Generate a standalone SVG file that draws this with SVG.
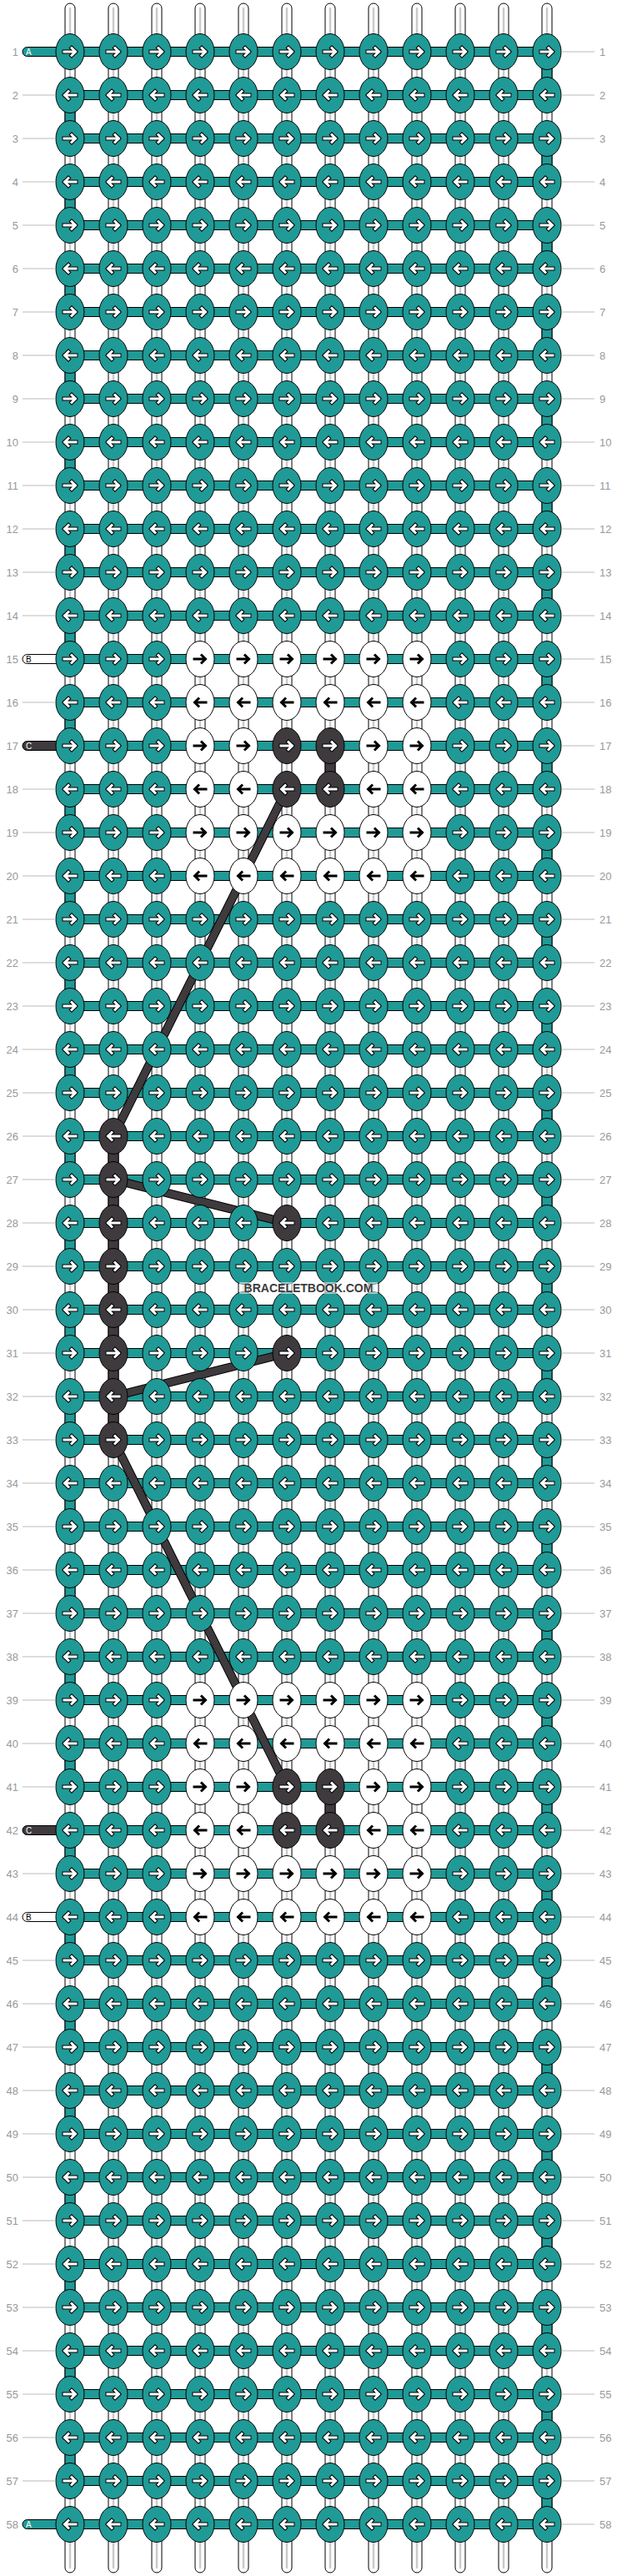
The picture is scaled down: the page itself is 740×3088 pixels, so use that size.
<svg xmlns="http://www.w3.org/2000/svg" width="740" height="3088" viewBox="0 0 740 3088">
<defs>
<style>
.s{fill:#fff;stroke:#000;stroke-width:1}
.g{stroke:#cacaca;stroke-width:2.5}
.e{fill:#209a96;stroke:#000;stroke-width:1}
.dk{fill:#3e3a3e;stroke:#000;stroke-width:1}
.wt{fill:#fff;stroke:#000;stroke-width:1}
.ln{stroke:#bbb;stroke-width:1;fill:none}
.n{font-family:"Liberation Sans",Arial,sans-serif;font-size:13px;fill:#999}
.nl{text-anchor:end}
.tb{font-family:"Liberation Sans",Arial,sans-serif;font-size:10px}
.wm{font-family:"Liberation Sans",Arial,sans-serif;font-size:14px;font-weight:bold;fill:#3c3c3c;text-anchor:middle}
</style>
<ellipse id="kb" rx="17" ry="21.5" stroke="#000" stroke-width="1"/>
<path id="aR" d="M-7 0H6M2-4.5L6.5 0L2 4.5" fill="none" stroke-linecap="square"/>
<path id="aL" d="M7 0H-6M-2-4.5L-6.5 0L-2 4.5" fill="none" stroke-linecap="square"/>
<g id="tR"><use href="#kb" fill="#209a96"/><use href="#aR" stroke="#000" stroke-width="5"/><use href="#aR" stroke="#fff" stroke-width="3"/></g>
<g id="tL"><use href="#kb" fill="#209a96"/><use href="#aL" stroke="#000" stroke-width="5"/><use href="#aL" stroke="#fff" stroke-width="3"/></g>
<g id="dR"><use href="#kb" fill="#3e3a3e"/><use href="#aR" stroke="#000" stroke-width="5"/><use href="#aR" stroke="#fff" stroke-width="3"/></g>
<g id="dL"><use href="#kb" fill="#3e3a3e"/><use href="#aL" stroke="#000" stroke-width="5"/><use href="#aL" stroke="#fff" stroke-width="3"/></g>
<g id="wR"><use href="#kb" fill="#fff"/><use href="#aR" stroke="#000" stroke-width="3"/></g>
<g id="wL"><use href="#kb" fill="#fff"/><use href="#aL" stroke="#000" stroke-width="3"/></g>
</defs>
<rect width="740" height="3088" fill="#fff"/>
<g id="strings">
<rect class="s" x="78" y="4" width="12" height="3080" rx="6"/><rect class="s" x="130" y="4" width="12" height="3080" rx="6"/><rect class="s" x="182" y="4" width="12" height="3080" rx="6"/><rect class="s" x="234" y="4" width="12" height="3080" rx="6"/><rect class="s" x="286" y="4" width="12" height="3080" rx="6"/><rect class="s" x="338" y="4" width="12" height="3080" rx="6"/><rect class="s" x="390" y="4" width="12" height="3080" rx="6"/><rect class="s" x="442" y="4" width="12" height="3080" rx="6"/><rect class="s" x="494" y="4" width="12" height="3080" rx="6"/><rect class="s" x="546" y="4" width="12" height="3080" rx="6"/><rect class="s" x="598" y="4" width="12" height="3080" rx="6"/><rect class="s" x="650" y="4" width="12" height="3080" rx="6"/>
<path class="g" d="M84 9V3079M136 9V3079M188 9V3079M240 9V3079M292 9V3079M344 9V3079M396 9V3079M448 9V3079M500 9V3079M552 9V3079M604 9V3079M656 9V3079"/>
</g>
<g id="connectors">
<g id="edges">
<rect class="e" x="650" y="62" width="12" height="52"/><rect class="e" x="78" y="114" width="12" height="52"/><rect class="e" x="650" y="166" width="12" height="52"/><rect class="e" x="78" y="218" width="12" height="52"/><rect class="e" x="650" y="270" width="12" height="52"/><rect class="e" x="78" y="322" width="12" height="52"/><rect class="e" x="650" y="374" width="12" height="52"/><rect class="e" x="78" y="426" width="12" height="52"/><rect class="e" x="650" y="478" width="12" height="52"/><rect class="e" x="78" y="530" width="12" height="52"/><rect class="e" x="650" y="582" width="12" height="52"/><rect class="e" x="78" y="634" width="12" height="52"/><rect class="e" x="650" y="686" width="12" height="52"/><rect class="e" x="78" y="738" width="12" height="52"/><rect class="e" x="650" y="790" width="12" height="52"/><rect class="e" x="78" y="842" width="12" height="52"/><rect class="e" x="650" y="894" width="12" height="52"/><rect class="e" x="78" y="946" width="12" height="52"/><rect class="e" x="650" y="998" width="12" height="52"/><rect class="e" x="78" y="1050" width="12" height="52"/><rect class="e" x="650" y="1102" width="12" height="52"/><rect class="e" x="78" y="1154" width="12" height="52"/><rect class="e" x="650" y="1206" width="12" height="52"/><rect class="e" x="78" y="1258" width="12" height="52"/><rect class="e" x="650" y="1310" width="12" height="52"/><rect class="e" x="78" y="1362" width="12" height="52"/><rect class="e" x="650" y="1414" width="12" height="52"/><rect class="e" x="78" y="1466" width="12" height="52"/><rect class="e" x="650" y="1518" width="12" height="52"/><rect class="e" x="78" y="1570" width="12" height="52"/><rect class="e" x="650" y="1622" width="12" height="52"/><rect class="e" x="78" y="1674" width="12" height="52"/><rect class="e" x="650" y="1726" width="12" height="52"/><rect class="e" x="78" y="1778" width="12" height="52"/><rect class="e" x="650" y="1830" width="12" height="52"/><rect class="e" x="78" y="1882" width="12" height="52"/><rect class="e" x="650" y="1934" width="12" height="52"/><rect class="e" x="78" y="1986" width="12" height="52"/><rect class="e" x="650" y="2038" width="12" height="52"/><rect class="e" x="78" y="2090" width="12" height="52"/><rect class="e" x="650" y="2142" width="12" height="52"/><rect class="e" x="78" y="2194" width="12" height="52"/><rect class="e" x="650" y="2246" width="12" height="52"/><rect class="e" x="78" y="2298" width="12" height="52"/><rect class="e" x="650" y="2350" width="12" height="52"/><rect class="e" x="78" y="2402" width="12" height="52"/><rect class="e" x="650" y="2454" width="12" height="52"/><rect class="e" x="78" y="2506" width="12" height="52"/><rect class="e" x="650" y="2558" width="12" height="52"/><rect class="e" x="78" y="2610" width="12" height="52"/><rect class="e" x="650" y="2662" width="12" height="52"/><rect class="e" x="78" y="2714" width="12" height="52"/><rect class="e" x="650" y="2766" width="12" height="52"/><rect class="e" x="78" y="2818" width="12" height="52"/><rect class="e" x="650" y="2870" width="12" height="52"/><rect class="e" x="78" y="2922" width="12" height="52"/><rect class="e" x="650" y="2974" width="12" height="52"/>
<rect class="dk" x="390" y="894" width="12" height="52"/><rect class="dk" x="130" y="1362" width="12" height="364"/><rect class="dk" x="390" y="2142" width="12" height="52"/>
</g>
<g id="bars">
<rect class="e" x="27" y="56.5" width="62" height="11" rx="5.5"/>
<rect class="wt" x="27" y="784.5" width="62" height="11" rx="5.5"/>
<rect class="dk" x="27" y="888.5" width="62" height="11" rx="5.5"/>
<rect class="dk" x="27" y="2188.5" width="62" height="11" rx="5.5"/>
<rect class="wt" x="27" y="2292.5" width="62" height="11" rx="5.5"/>
<rect class="e" x="27" y="3020.5" width="62" height="11" rx="5.5"/>
<rect class="e" x="84" y="56.5" width="572" height="11"/><rect class="e" x="84" y="108.5" width="572" height="11"/><rect class="e" x="84" y="160.5" width="572" height="11"/><rect class="e" x="84" y="212.5" width="572" height="11"/><rect class="e" x="84" y="264.5" width="572" height="11"/><rect class="e" x="84" y="316.5" width="572" height="11"/><rect class="e" x="84" y="368.5" width="572" height="11"/><rect class="e" x="84" y="420.5" width="572" height="11"/><rect class="e" x="84" y="472.5" width="572" height="11"/><rect class="e" x="84" y="524.5" width="572" height="11"/><rect class="e" x="84" y="576.5" width="572" height="11"/><rect class="e" x="84" y="628.5" width="572" height="11"/><rect class="e" x="84" y="680.5" width="572" height="11"/><rect class="e" x="84" y="732.5" width="572" height="11"/><rect class="e" x="84" y="784.5" width="572" height="11"/><rect class="e" x="84" y="836.5" width="572" height="11"/><rect class="e" x="84" y="888.5" width="572" height="11"/><rect class="e" x="84" y="940.5" width="572" height="11"/><rect class="e" x="84" y="992.5" width="572" height="11"/><rect class="e" x="84" y="1044.5" width="572" height="11"/><rect class="e" x="84" y="1096.5" width="572" height="11"/><rect class="e" x="84" y="1148.5" width="572" height="11"/><rect class="e" x="84" y="1200.5" width="572" height="11"/><rect class="e" x="84" y="1252.5" width="572" height="11"/><rect class="e" x="84" y="1304.5" width="572" height="11"/><rect class="e" x="84" y="1356.5" width="572" height="11"/><rect class="e" x="84" y="1408.5" width="572" height="11"/><rect class="e" x="84" y="1460.5" width="572" height="11"/><rect class="e" x="84" y="1512.5" width="572" height="11"/><rect class="e" x="84" y="1564.5" width="572" height="11"/><rect class="e" x="84" y="1616.5" width="572" height="11"/><rect class="e" x="84" y="1668.5" width="572" height="11"/><rect class="e" x="84" y="1720.5" width="572" height="11"/><rect class="e" x="84" y="1772.5" width="572" height="11"/><rect class="e" x="84" y="1824.5" width="572" height="11"/><rect class="e" x="84" y="1876.5" width="572" height="11"/><rect class="e" x="84" y="1928.5" width="572" height="11"/><rect class="e" x="84" y="1980.5" width="572" height="11"/><rect class="e" x="84" y="2032.5" width="572" height="11"/><rect class="e" x="84" y="2084.5" width="572" height="11"/><rect class="e" x="84" y="2136.5" width="572" height="11"/><rect class="e" x="84" y="2188.5" width="572" height="11"/><rect class="e" x="84" y="2240.5" width="572" height="11"/><rect class="e" x="84" y="2292.5" width="572" height="11"/><rect class="e" x="84" y="2344.5" width="572" height="11"/><rect class="e" x="84" y="2396.5" width="572" height="11"/><rect class="e" x="84" y="2448.5" width="572" height="11"/><rect class="e" x="84" y="2500.5" width="572" height="11"/><rect class="e" x="84" y="2552.5" width="572" height="11"/><rect class="e" x="84" y="2604.5" width="572" height="11"/><rect class="e" x="84" y="2656.5" width="572" height="11"/><rect class="e" x="84" y="2708.5" width="572" height="11"/><rect class="e" x="84" y="2760.5" width="572" height="11"/><rect class="e" x="84" y="2812.5" width="572" height="11"/><rect class="e" x="84" y="2864.5" width="572" height="11"/><rect class="e" x="84" y="2916.5" width="572" height="11"/><rect class="e" x="84" y="2968.5" width="572" height="11"/><rect class="e" x="84" y="3020.5" width="572" height="11"/>
</g>
<g id="thread">
<path d="M344 946L136 1362M136 1414L344 1466M344 1622L136 1674M136 1726L344 2142" fill="none" stroke="#000" stroke-width="10.5"/>
<path d="M344 946L136 1362M136 1414L344 1466M344 1622L136 1674M136 1726L344 2142" fill="none" stroke="#3e3a3e" stroke-width="8.5"/>
</g>
</g>
<g id="knots">
<g id="r1" transform="translate(0 62)"><g id="k1-1"><use href="#tR" x="84"/></g><g id="k1-2"><use href="#tR" x="136"/></g><g id="k1-3"><use href="#tR" x="188"/></g><g id="k1-4"><use href="#tR" x="240"/></g><g id="k1-5"><use href="#tR" x="292"/></g><g id="k1-6"><use href="#tR" x="344"/></g><g id="k1-7"><use href="#tR" x="396"/></g><g id="k1-8"><use href="#tR" x="448"/></g><g id="k1-9"><use href="#tR" x="500"/></g><g id="k1-10"><use href="#tR" x="552"/></g><g id="k1-11"><use href="#tR" x="604"/></g><g id="k1-12"><use href="#tR" x="656"/></g></g>
<g id="r2" transform="translate(0 114)"><g id="k2-1"><use href="#tL" x="84"/></g><g id="k2-2"><use href="#tL" x="136"/></g><g id="k2-3"><use href="#tL" x="188"/></g><g id="k2-4"><use href="#tL" x="240"/></g><g id="k2-5"><use href="#tL" x="292"/></g><g id="k2-6"><use href="#tL" x="344"/></g><g id="k2-7"><use href="#tL" x="396"/></g><g id="k2-8"><use href="#tL" x="448"/></g><g id="k2-9"><use href="#tL" x="500"/></g><g id="k2-10"><use href="#tL" x="552"/></g><g id="k2-11"><use href="#tL" x="604"/></g><g id="k2-12"><use href="#tL" x="656"/></g></g>
<g id="r3" transform="translate(0 166)"><g id="k3-1"><use href="#tR" x="84"/></g><g id="k3-2"><use href="#tR" x="136"/></g><g id="k3-3"><use href="#tR" x="188"/></g><g id="k3-4"><use href="#tR" x="240"/></g><g id="k3-5"><use href="#tR" x="292"/></g><g id="k3-6"><use href="#tR" x="344"/></g><g id="k3-7"><use href="#tR" x="396"/></g><g id="k3-8"><use href="#tR" x="448"/></g><g id="k3-9"><use href="#tR" x="500"/></g><g id="k3-10"><use href="#tR" x="552"/></g><g id="k3-11"><use href="#tR" x="604"/></g><g id="k3-12"><use href="#tR" x="656"/></g></g>
<g id="r4" transform="translate(0 218)"><g id="k4-1"><use href="#tL" x="84"/></g><g id="k4-2"><use href="#tL" x="136"/></g><g id="k4-3"><use href="#tL" x="188"/></g><g id="k4-4"><use href="#tL" x="240"/></g><g id="k4-5"><use href="#tL" x="292"/></g><g id="k4-6"><use href="#tL" x="344"/></g><g id="k4-7"><use href="#tL" x="396"/></g><g id="k4-8"><use href="#tL" x="448"/></g><g id="k4-9"><use href="#tL" x="500"/></g><g id="k4-10"><use href="#tL" x="552"/></g><g id="k4-11"><use href="#tL" x="604"/></g><g id="k4-12"><use href="#tL" x="656"/></g></g>
<g id="r5" transform="translate(0 270)"><g id="k5-1"><use href="#tR" x="84"/></g><g id="k5-2"><use href="#tR" x="136"/></g><g id="k5-3"><use href="#tR" x="188"/></g><g id="k5-4"><use href="#tR" x="240"/></g><g id="k5-5"><use href="#tR" x="292"/></g><g id="k5-6"><use href="#tR" x="344"/></g><g id="k5-7"><use href="#tR" x="396"/></g><g id="k5-8"><use href="#tR" x="448"/></g><g id="k5-9"><use href="#tR" x="500"/></g><g id="k5-10"><use href="#tR" x="552"/></g><g id="k5-11"><use href="#tR" x="604"/></g><g id="k5-12"><use href="#tR" x="656"/></g></g>
<g id="r6" transform="translate(0 322)"><g id="k6-1"><use href="#tL" x="84"/></g><g id="k6-2"><use href="#tL" x="136"/></g><g id="k6-3"><use href="#tL" x="188"/></g><g id="k6-4"><use href="#tL" x="240"/></g><g id="k6-5"><use href="#tL" x="292"/></g><g id="k6-6"><use href="#tL" x="344"/></g><g id="k6-7"><use href="#tL" x="396"/></g><g id="k6-8"><use href="#tL" x="448"/></g><g id="k6-9"><use href="#tL" x="500"/></g><g id="k6-10"><use href="#tL" x="552"/></g><g id="k6-11"><use href="#tL" x="604"/></g><g id="k6-12"><use href="#tL" x="656"/></g></g>
<g id="r7" transform="translate(0 374)"><g id="k7-1"><use href="#tR" x="84"/></g><g id="k7-2"><use href="#tR" x="136"/></g><g id="k7-3"><use href="#tR" x="188"/></g><g id="k7-4"><use href="#tR" x="240"/></g><g id="k7-5"><use href="#tR" x="292"/></g><g id="k7-6"><use href="#tR" x="344"/></g><g id="k7-7"><use href="#tR" x="396"/></g><g id="k7-8"><use href="#tR" x="448"/></g><g id="k7-9"><use href="#tR" x="500"/></g><g id="k7-10"><use href="#tR" x="552"/></g><g id="k7-11"><use href="#tR" x="604"/></g><g id="k7-12"><use href="#tR" x="656"/></g></g>
<g id="r8" transform="translate(0 426)"><g id="k8-1"><use href="#tL" x="84"/></g><g id="k8-2"><use href="#tL" x="136"/></g><g id="k8-3"><use href="#tL" x="188"/></g><g id="k8-4"><use href="#tL" x="240"/></g><g id="k8-5"><use href="#tL" x="292"/></g><g id="k8-6"><use href="#tL" x="344"/></g><g id="k8-7"><use href="#tL" x="396"/></g><g id="k8-8"><use href="#tL" x="448"/></g><g id="k8-9"><use href="#tL" x="500"/></g><g id="k8-10"><use href="#tL" x="552"/></g><g id="k8-11"><use href="#tL" x="604"/></g><g id="k8-12"><use href="#tL" x="656"/></g></g>
<g id="r9" transform="translate(0 478)"><g id="k9-1"><use href="#tR" x="84"/></g><g id="k9-2"><use href="#tR" x="136"/></g><g id="k9-3"><use href="#tR" x="188"/></g><g id="k9-4"><use href="#tR" x="240"/></g><g id="k9-5"><use href="#tR" x="292"/></g><g id="k9-6"><use href="#tR" x="344"/></g><g id="k9-7"><use href="#tR" x="396"/></g><g id="k9-8"><use href="#tR" x="448"/></g><g id="k9-9"><use href="#tR" x="500"/></g><g id="k9-10"><use href="#tR" x="552"/></g><g id="k9-11"><use href="#tR" x="604"/></g><g id="k9-12"><use href="#tR" x="656"/></g></g>
<g id="r10" transform="translate(0 530)"><g id="k10-1"><use href="#tL" x="84"/></g><g id="k10-2"><use href="#tL" x="136"/></g><g id="k10-3"><use href="#tL" x="188"/></g><g id="k10-4"><use href="#tL" x="240"/></g><g id="k10-5"><use href="#tL" x="292"/></g><g id="k10-6"><use href="#tL" x="344"/></g><g id="k10-7"><use href="#tL" x="396"/></g><g id="k10-8"><use href="#tL" x="448"/></g><g id="k10-9"><use href="#tL" x="500"/></g><g id="k10-10"><use href="#tL" x="552"/></g><g id="k10-11"><use href="#tL" x="604"/></g><g id="k10-12"><use href="#tL" x="656"/></g></g>
<g id="r11" transform="translate(0 582)"><g id="k11-1"><use href="#tR" x="84"/></g><g id="k11-2"><use href="#tR" x="136"/></g><g id="k11-3"><use href="#tR" x="188"/></g><g id="k11-4"><use href="#tR" x="240"/></g><g id="k11-5"><use href="#tR" x="292"/></g><g id="k11-6"><use href="#tR" x="344"/></g><g id="k11-7"><use href="#tR" x="396"/></g><g id="k11-8"><use href="#tR" x="448"/></g><g id="k11-9"><use href="#tR" x="500"/></g><g id="k11-10"><use href="#tR" x="552"/></g><g id="k11-11"><use href="#tR" x="604"/></g><g id="k11-12"><use href="#tR" x="656"/></g></g>
<g id="r12" transform="translate(0 634)"><g id="k12-1"><use href="#tL" x="84"/></g><g id="k12-2"><use href="#tL" x="136"/></g><g id="k12-3"><use href="#tL" x="188"/></g><g id="k12-4"><use href="#tL" x="240"/></g><g id="k12-5"><use href="#tL" x="292"/></g><g id="k12-6"><use href="#tL" x="344"/></g><g id="k12-7"><use href="#tL" x="396"/></g><g id="k12-8"><use href="#tL" x="448"/></g><g id="k12-9"><use href="#tL" x="500"/></g><g id="k12-10"><use href="#tL" x="552"/></g><g id="k12-11"><use href="#tL" x="604"/></g><g id="k12-12"><use href="#tL" x="656"/></g></g>
<g id="r13" transform="translate(0 686)"><g id="k13-1"><use href="#tR" x="84"/></g><g id="k13-2"><use href="#tR" x="136"/></g><g id="k13-3"><use href="#tR" x="188"/></g><g id="k13-4"><use href="#tR" x="240"/></g><g id="k13-5"><use href="#tR" x="292"/></g><g id="k13-6"><use href="#tR" x="344"/></g><g id="k13-7"><use href="#tR" x="396"/></g><g id="k13-8"><use href="#tR" x="448"/></g><g id="k13-9"><use href="#tR" x="500"/></g><g id="k13-10"><use href="#tR" x="552"/></g><g id="k13-11"><use href="#tR" x="604"/></g><g id="k13-12"><use href="#tR" x="656"/></g></g>
<g id="r14" transform="translate(0 738)"><g id="k14-1"><use href="#tL" x="84"/></g><g id="k14-2"><use href="#tL" x="136"/></g><g id="k14-3"><use href="#tL" x="188"/></g><g id="k14-4"><use href="#tL" x="240"/></g><g id="k14-5"><use href="#tL" x="292"/></g><g id="k14-6"><use href="#tL" x="344"/></g><g id="k14-7"><use href="#tL" x="396"/></g><g id="k14-8"><use href="#tL" x="448"/></g><g id="k14-9"><use href="#tL" x="500"/></g><g id="k14-10"><use href="#tL" x="552"/></g><g id="k14-11"><use href="#tL" x="604"/></g><g id="k14-12"><use href="#tL" x="656"/></g></g>
<g id="r15" transform="translate(0 790)"><g id="k15-1"><use href="#tR" x="84"/></g><g id="k15-2"><use href="#tR" x="136"/></g><g id="k15-3"><use href="#tR" x="188"/></g><g id="k15-4"><use href="#wR" x="240"/></g><g id="k15-5"><use href="#wR" x="292"/></g><g id="k15-6"><use href="#wR" x="344"/></g><g id="k15-7"><use href="#wR" x="396"/></g><g id="k15-8"><use href="#wR" x="448"/></g><g id="k15-9"><use href="#wR" x="500"/></g><g id="k15-10"><use href="#tR" x="552"/></g><g id="k15-11"><use href="#tR" x="604"/></g><g id="k15-12"><use href="#tR" x="656"/></g></g>
<g id="r16" transform="translate(0 842)"><g id="k16-1"><use href="#tL" x="84"/></g><g id="k16-2"><use href="#tL" x="136"/></g><g id="k16-3"><use href="#tL" x="188"/></g><g id="k16-4"><use href="#wL" x="240"/></g><g id="k16-5"><use href="#wL" x="292"/></g><g id="k16-6"><use href="#wL" x="344"/></g><g id="k16-7"><use href="#wL" x="396"/></g><g id="k16-8"><use href="#wL" x="448"/></g><g id="k16-9"><use href="#wL" x="500"/></g><g id="k16-10"><use href="#tL" x="552"/></g><g id="k16-11"><use href="#tL" x="604"/></g><g id="k16-12"><use href="#tL" x="656"/></g></g>
<g id="r17" transform="translate(0 894)"><g id="k17-1"><use href="#tR" x="84"/></g><g id="k17-2"><use href="#tR" x="136"/></g><g id="k17-3"><use href="#tR" x="188"/></g><g id="k17-4"><use href="#wR" x="240"/></g><g id="k17-5"><use href="#wR" x="292"/></g><g id="k17-6"><use href="#dR" x="344"/></g><g id="k17-7"><use href="#dR" x="396"/></g><g id="k17-8"><use href="#wR" x="448"/></g><g id="k17-9"><use href="#wR" x="500"/></g><g id="k17-10"><use href="#tR" x="552"/></g><g id="k17-11"><use href="#tR" x="604"/></g><g id="k17-12"><use href="#tR" x="656"/></g></g>
<g id="r18" transform="translate(0 946)"><g id="k18-1"><use href="#tL" x="84"/></g><g id="k18-2"><use href="#tL" x="136"/></g><g id="k18-3"><use href="#tL" x="188"/></g><g id="k18-4"><use href="#wL" x="240"/></g><g id="k18-5"><use href="#wL" x="292"/></g><g id="k18-6"><use href="#dL" x="344"/></g><g id="k18-7"><use href="#dL" x="396"/></g><g id="k18-8"><use href="#wL" x="448"/></g><g id="k18-9"><use href="#wL" x="500"/></g><g id="k18-10"><use href="#tL" x="552"/></g><g id="k18-11"><use href="#tL" x="604"/></g><g id="k18-12"><use href="#tL" x="656"/></g></g>
<g id="r19" transform="translate(0 998)"><g id="k19-1"><use href="#tR" x="84"/></g><g id="k19-2"><use href="#tR" x="136"/></g><g id="k19-3"><use href="#tR" x="188"/></g><g id="k19-4"><use href="#wR" x="240"/></g><g id="k19-5"><use href="#wR" x="292"/></g><g id="k19-6"><use href="#wR" x="344"/></g><g id="k19-7"><use href="#wR" x="396"/></g><g id="k19-8"><use href="#wR" x="448"/></g><g id="k19-9"><use href="#wR" x="500"/></g><g id="k19-10"><use href="#tR" x="552"/></g><g id="k19-11"><use href="#tR" x="604"/></g><g id="k19-12"><use href="#tR" x="656"/></g></g>
<g id="r20" transform="translate(0 1050)"><g id="k20-1"><use href="#tL" x="84"/></g><g id="k20-2"><use href="#tL" x="136"/></g><g id="k20-3"><use href="#tL" x="188"/></g><g id="k20-4"><use href="#wL" x="240"/></g><g id="k20-5"><use href="#wL" x="292"/></g><g id="k20-6"><use href="#wL" x="344"/></g><g id="k20-7"><use href="#wL" x="396"/></g><g id="k20-8"><use href="#wL" x="448"/></g><g id="k20-9"><use href="#wL" x="500"/></g><g id="k20-10"><use href="#tL" x="552"/></g><g id="k20-11"><use href="#tL" x="604"/></g><g id="k20-12"><use href="#tL" x="656"/></g></g>
<g id="r21" transform="translate(0 1102)"><g id="k21-1"><use href="#tR" x="84"/></g><g id="k21-2"><use href="#tR" x="136"/></g><g id="k21-3"><use href="#tR" x="188"/></g><g id="k21-4"><use href="#tR" x="240"/></g><g id="k21-5"><use href="#tR" x="292"/></g><g id="k21-6"><use href="#tR" x="344"/></g><g id="k21-7"><use href="#tR" x="396"/></g><g id="k21-8"><use href="#tR" x="448"/></g><g id="k21-9"><use href="#tR" x="500"/></g><g id="k21-10"><use href="#tR" x="552"/></g><g id="k21-11"><use href="#tR" x="604"/></g><g id="k21-12"><use href="#tR" x="656"/></g></g>
<g id="r22" transform="translate(0 1154)"><g id="k22-1"><use href="#tL" x="84"/></g><g id="k22-2"><use href="#tL" x="136"/></g><g id="k22-3"><use href="#tL" x="188"/></g><g id="k22-4"><use href="#tL" x="240"/></g><g id="k22-5"><use href="#tL" x="292"/></g><g id="k22-6"><use href="#tL" x="344"/></g><g id="k22-7"><use href="#tL" x="396"/></g><g id="k22-8"><use href="#tL" x="448"/></g><g id="k22-9"><use href="#tL" x="500"/></g><g id="k22-10"><use href="#tL" x="552"/></g><g id="k22-11"><use href="#tL" x="604"/></g><g id="k22-12"><use href="#tL" x="656"/></g></g>
<g id="r23" transform="translate(0 1206)"><g id="k23-1"><use href="#tR" x="84"/></g><g id="k23-2"><use href="#tR" x="136"/></g><g id="k23-3"><use href="#tR" x="188"/></g><g id="k23-4"><use href="#tR" x="240"/></g><g id="k23-5"><use href="#tR" x="292"/></g><g id="k23-6"><use href="#tR" x="344"/></g><g id="k23-7"><use href="#tR" x="396"/></g><g id="k23-8"><use href="#tR" x="448"/></g><g id="k23-9"><use href="#tR" x="500"/></g><g id="k23-10"><use href="#tR" x="552"/></g><g id="k23-11"><use href="#tR" x="604"/></g><g id="k23-12"><use href="#tR" x="656"/></g></g>
<g id="r24" transform="translate(0 1258)"><g id="k24-1"><use href="#tL" x="84"/></g><g id="k24-2"><use href="#tL" x="136"/></g><g id="k24-3"><use href="#tL" x="188"/></g><g id="k24-4"><use href="#tL" x="240"/></g><g id="k24-5"><use href="#tL" x="292"/></g><g id="k24-6"><use href="#tL" x="344"/></g><g id="k24-7"><use href="#tL" x="396"/></g><g id="k24-8"><use href="#tL" x="448"/></g><g id="k24-9"><use href="#tL" x="500"/></g><g id="k24-10"><use href="#tL" x="552"/></g><g id="k24-11"><use href="#tL" x="604"/></g><g id="k24-12"><use href="#tL" x="656"/></g></g>
<g id="r25" transform="translate(0 1310)"><g id="k25-1"><use href="#tR" x="84"/></g><g id="k25-2"><use href="#tR" x="136"/></g><g id="k25-3"><use href="#tR" x="188"/></g><g id="k25-4"><use href="#tR" x="240"/></g><g id="k25-5"><use href="#tR" x="292"/></g><g id="k25-6"><use href="#tR" x="344"/></g><g id="k25-7"><use href="#tR" x="396"/></g><g id="k25-8"><use href="#tR" x="448"/></g><g id="k25-9"><use href="#tR" x="500"/></g><g id="k25-10"><use href="#tR" x="552"/></g><g id="k25-11"><use href="#tR" x="604"/></g><g id="k25-12"><use href="#tR" x="656"/></g></g>
<g id="r26" transform="translate(0 1362)"><g id="k26-1"><use href="#tL" x="84"/></g><g id="k26-2"><use href="#dL" x="136"/></g><g id="k26-3"><use href="#tL" x="188"/></g><g id="k26-4"><use href="#tL" x="240"/></g><g id="k26-5"><use href="#tL" x="292"/></g><g id="k26-6"><use href="#tL" x="344"/></g><g id="k26-7"><use href="#tL" x="396"/></g><g id="k26-8"><use href="#tL" x="448"/></g><g id="k26-9"><use href="#tL" x="500"/></g><g id="k26-10"><use href="#tL" x="552"/></g><g id="k26-11"><use href="#tL" x="604"/></g><g id="k26-12"><use href="#tL" x="656"/></g></g>
<g id="r27" transform="translate(0 1414)"><g id="k27-1"><use href="#tR" x="84"/></g><g id="k27-2"><use href="#dR" x="136"/></g><g id="k27-3"><use href="#tR" x="188"/></g><g id="k27-4"><use href="#tR" x="240"/></g><g id="k27-5"><use href="#tR" x="292"/></g><g id="k27-6"><use href="#tR" x="344"/></g><g id="k27-7"><use href="#tR" x="396"/></g><g id="k27-8"><use href="#tR" x="448"/></g><g id="k27-9"><use href="#tR" x="500"/></g><g id="k27-10"><use href="#tR" x="552"/></g><g id="k27-11"><use href="#tR" x="604"/></g><g id="k27-12"><use href="#tR" x="656"/></g></g>
<g id="r28" transform="translate(0 1466)"><g id="k28-1"><use href="#tL" x="84"/></g><g id="k28-2"><use href="#dL" x="136"/></g><g id="k28-3"><use href="#tL" x="188"/></g><g id="k28-4"><use href="#tL" x="240"/></g><g id="k28-5"><use href="#tL" x="292"/></g><g id="k28-6"><use href="#dL" x="344"/></g><g id="k28-7"><use href="#tL" x="396"/></g><g id="k28-8"><use href="#tL" x="448"/></g><g id="k28-9"><use href="#tL" x="500"/></g><g id="k28-10"><use href="#tL" x="552"/></g><g id="k28-11"><use href="#tL" x="604"/></g><g id="k28-12"><use href="#tL" x="656"/></g></g>
<g id="r29" transform="translate(0 1518)"><g id="k29-1"><use href="#tR" x="84"/></g><g id="k29-2"><use href="#dR" x="136"/></g><g id="k29-3"><use href="#tR" x="188"/></g><g id="k29-4"><use href="#tR" x="240"/></g><g id="k29-5"><use href="#tR" x="292"/></g><g id="k29-6"><use href="#tR" x="344"/></g><g id="k29-7"><use href="#tR" x="396"/></g><g id="k29-8"><use href="#tR" x="448"/></g><g id="k29-9"><use href="#tR" x="500"/></g><g id="k29-10"><use href="#tR" x="552"/></g><g id="k29-11"><use href="#tR" x="604"/></g><g id="k29-12"><use href="#tR" x="656"/></g></g>
<g id="r30" transform="translate(0 1570)"><g id="k30-1"><use href="#tL" x="84"/></g><g id="k30-2"><use href="#dL" x="136"/></g><g id="k30-3"><use href="#tL" x="188"/></g><g id="k30-4"><use href="#tL" x="240"/></g><g id="k30-5"><use href="#tL" x="292"/></g><g id="k30-6"><use href="#tL" x="344"/></g><g id="k30-7"><use href="#tL" x="396"/></g><g id="k30-8"><use href="#tL" x="448"/></g><g id="k30-9"><use href="#tL" x="500"/></g><g id="k30-10"><use href="#tL" x="552"/></g><g id="k30-11"><use href="#tL" x="604"/></g><g id="k30-12"><use href="#tL" x="656"/></g></g>
<g id="r31" transform="translate(0 1622)"><g id="k31-1"><use href="#tR" x="84"/></g><g id="k31-2"><use href="#dR" x="136"/></g><g id="k31-3"><use href="#tR" x="188"/></g><g id="k31-4"><use href="#tR" x="240"/></g><g id="k31-5"><use href="#tR" x="292"/></g><g id="k31-6"><use href="#dR" x="344"/></g><g id="k31-7"><use href="#tR" x="396"/></g><g id="k31-8"><use href="#tR" x="448"/></g><g id="k31-9"><use href="#tR" x="500"/></g><g id="k31-10"><use href="#tR" x="552"/></g><g id="k31-11"><use href="#tR" x="604"/></g><g id="k31-12"><use href="#tR" x="656"/></g></g>
<g id="r32" transform="translate(0 1674)"><g id="k32-1"><use href="#tL" x="84"/></g><g id="k32-2"><use href="#dL" x="136"/></g><g id="k32-3"><use href="#tL" x="188"/></g><g id="k32-4"><use href="#tL" x="240"/></g><g id="k32-5"><use href="#tL" x="292"/></g><g id="k32-6"><use href="#tL" x="344"/></g><g id="k32-7"><use href="#tL" x="396"/></g><g id="k32-8"><use href="#tL" x="448"/></g><g id="k32-9"><use href="#tL" x="500"/></g><g id="k32-10"><use href="#tL" x="552"/></g><g id="k32-11"><use href="#tL" x="604"/></g><g id="k32-12"><use href="#tL" x="656"/></g></g>
<g id="r33" transform="translate(0 1726)"><g id="k33-1"><use href="#tR" x="84"/></g><g id="k33-2"><use href="#dR" x="136"/></g><g id="k33-3"><use href="#tR" x="188"/></g><g id="k33-4"><use href="#tR" x="240"/></g><g id="k33-5"><use href="#tR" x="292"/></g><g id="k33-6"><use href="#tR" x="344"/></g><g id="k33-7"><use href="#tR" x="396"/></g><g id="k33-8"><use href="#tR" x="448"/></g><g id="k33-9"><use href="#tR" x="500"/></g><g id="k33-10"><use href="#tR" x="552"/></g><g id="k33-11"><use href="#tR" x="604"/></g><g id="k33-12"><use href="#tR" x="656"/></g></g>
<g id="r34" transform="translate(0 1778)"><g id="k34-1"><use href="#tL" x="84"/></g><g id="k34-2"><use href="#tL" x="136"/></g><g id="k34-3"><use href="#tL" x="188"/></g><g id="k34-4"><use href="#tL" x="240"/></g><g id="k34-5"><use href="#tL" x="292"/></g><g id="k34-6"><use href="#tL" x="344"/></g><g id="k34-7"><use href="#tL" x="396"/></g><g id="k34-8"><use href="#tL" x="448"/></g><g id="k34-9"><use href="#tL" x="500"/></g><g id="k34-10"><use href="#tL" x="552"/></g><g id="k34-11"><use href="#tL" x="604"/></g><g id="k34-12"><use href="#tL" x="656"/></g></g>
<g id="r35" transform="translate(0 1830)"><g id="k35-1"><use href="#tR" x="84"/></g><g id="k35-2"><use href="#tR" x="136"/></g><g id="k35-3"><use href="#tR" x="188"/></g><g id="k35-4"><use href="#tR" x="240"/></g><g id="k35-5"><use href="#tR" x="292"/></g><g id="k35-6"><use href="#tR" x="344"/></g><g id="k35-7"><use href="#tR" x="396"/></g><g id="k35-8"><use href="#tR" x="448"/></g><g id="k35-9"><use href="#tR" x="500"/></g><g id="k35-10"><use href="#tR" x="552"/></g><g id="k35-11"><use href="#tR" x="604"/></g><g id="k35-12"><use href="#tR" x="656"/></g></g>
<g id="r36" transform="translate(0 1882)"><g id="k36-1"><use href="#tL" x="84"/></g><g id="k36-2"><use href="#tL" x="136"/></g><g id="k36-3"><use href="#tL" x="188"/></g><g id="k36-4"><use href="#tL" x="240"/></g><g id="k36-5"><use href="#tL" x="292"/></g><g id="k36-6"><use href="#tL" x="344"/></g><g id="k36-7"><use href="#tL" x="396"/></g><g id="k36-8"><use href="#tL" x="448"/></g><g id="k36-9"><use href="#tL" x="500"/></g><g id="k36-10"><use href="#tL" x="552"/></g><g id="k36-11"><use href="#tL" x="604"/></g><g id="k36-12"><use href="#tL" x="656"/></g></g>
<g id="r37" transform="translate(0 1934)"><g id="k37-1"><use href="#tR" x="84"/></g><g id="k37-2"><use href="#tR" x="136"/></g><g id="k37-3"><use href="#tR" x="188"/></g><g id="k37-4"><use href="#tR" x="240"/></g><g id="k37-5"><use href="#tR" x="292"/></g><g id="k37-6"><use href="#tR" x="344"/></g><g id="k37-7"><use href="#tR" x="396"/></g><g id="k37-8"><use href="#tR" x="448"/></g><g id="k37-9"><use href="#tR" x="500"/></g><g id="k37-10"><use href="#tR" x="552"/></g><g id="k37-11"><use href="#tR" x="604"/></g><g id="k37-12"><use href="#tR" x="656"/></g></g>
<g id="r38" transform="translate(0 1986)"><g id="k38-1"><use href="#tL" x="84"/></g><g id="k38-2"><use href="#tL" x="136"/></g><g id="k38-3"><use href="#tL" x="188"/></g><g id="k38-4"><use href="#tL" x="240"/></g><g id="k38-5"><use href="#tL" x="292"/></g><g id="k38-6"><use href="#tL" x="344"/></g><g id="k38-7"><use href="#tL" x="396"/></g><g id="k38-8"><use href="#tL" x="448"/></g><g id="k38-9"><use href="#tL" x="500"/></g><g id="k38-10"><use href="#tL" x="552"/></g><g id="k38-11"><use href="#tL" x="604"/></g><g id="k38-12"><use href="#tL" x="656"/></g></g>
<g id="r39" transform="translate(0 2038)"><g id="k39-1"><use href="#tR" x="84"/></g><g id="k39-2"><use href="#tR" x="136"/></g><g id="k39-3"><use href="#tR" x="188"/></g><g id="k39-4"><use href="#wR" x="240"/></g><g id="k39-5"><use href="#wR" x="292"/></g><g id="k39-6"><use href="#wR" x="344"/></g><g id="k39-7"><use href="#wR" x="396"/></g><g id="k39-8"><use href="#wR" x="448"/></g><g id="k39-9"><use href="#wR" x="500"/></g><g id="k39-10"><use href="#tR" x="552"/></g><g id="k39-11"><use href="#tR" x="604"/></g><g id="k39-12"><use href="#tR" x="656"/></g></g>
<g id="r40" transform="translate(0 2090)"><g id="k40-1"><use href="#tL" x="84"/></g><g id="k40-2"><use href="#tL" x="136"/></g><g id="k40-3"><use href="#tL" x="188"/></g><g id="k40-4"><use href="#wL" x="240"/></g><g id="k40-5"><use href="#wL" x="292"/></g><g id="k40-6"><use href="#wL" x="344"/></g><g id="k40-7"><use href="#wL" x="396"/></g><g id="k40-8"><use href="#wL" x="448"/></g><g id="k40-9"><use href="#wL" x="500"/></g><g id="k40-10"><use href="#tL" x="552"/></g><g id="k40-11"><use href="#tL" x="604"/></g><g id="k40-12"><use href="#tL" x="656"/></g></g>
<g id="r41" transform="translate(0 2142)"><g id="k41-1"><use href="#tR" x="84"/></g><g id="k41-2"><use href="#tR" x="136"/></g><g id="k41-3"><use href="#tR" x="188"/></g><g id="k41-4"><use href="#wR" x="240"/></g><g id="k41-5"><use href="#wR" x="292"/></g><g id="k41-6"><use href="#dR" x="344"/></g><g id="k41-7"><use href="#dR" x="396"/></g><g id="k41-8"><use href="#wR" x="448"/></g><g id="k41-9"><use href="#wR" x="500"/></g><g id="k41-10"><use href="#tR" x="552"/></g><g id="k41-11"><use href="#tR" x="604"/></g><g id="k41-12"><use href="#tR" x="656"/></g></g>
<g id="r42" transform="translate(0 2194)"><g id="k42-1"><use href="#tL" x="84"/></g><g id="k42-2"><use href="#tL" x="136"/></g><g id="k42-3"><use href="#tL" x="188"/></g><g id="k42-4"><use href="#wL" x="240"/></g><g id="k42-5"><use href="#wL" x="292"/></g><g id="k42-6"><use href="#dL" x="344"/></g><g id="k42-7"><use href="#dL" x="396"/></g><g id="k42-8"><use href="#wL" x="448"/></g><g id="k42-9"><use href="#wL" x="500"/></g><g id="k42-10"><use href="#tL" x="552"/></g><g id="k42-11"><use href="#tL" x="604"/></g><g id="k42-12"><use href="#tL" x="656"/></g></g>
<g id="r43" transform="translate(0 2246)"><g id="k43-1"><use href="#tR" x="84"/></g><g id="k43-2"><use href="#tR" x="136"/></g><g id="k43-3"><use href="#tR" x="188"/></g><g id="k43-4"><use href="#wR" x="240"/></g><g id="k43-5"><use href="#wR" x="292"/></g><g id="k43-6"><use href="#wR" x="344"/></g><g id="k43-7"><use href="#wR" x="396"/></g><g id="k43-8"><use href="#wR" x="448"/></g><g id="k43-9"><use href="#wR" x="500"/></g><g id="k43-10"><use href="#tR" x="552"/></g><g id="k43-11"><use href="#tR" x="604"/></g><g id="k43-12"><use href="#tR" x="656"/></g></g>
<g id="r44" transform="translate(0 2298)"><g id="k44-1"><use href="#tL" x="84"/></g><g id="k44-2"><use href="#tL" x="136"/></g><g id="k44-3"><use href="#tL" x="188"/></g><g id="k44-4"><use href="#wL" x="240"/></g><g id="k44-5"><use href="#wL" x="292"/></g><g id="k44-6"><use href="#wL" x="344"/></g><g id="k44-7"><use href="#wL" x="396"/></g><g id="k44-8"><use href="#wL" x="448"/></g><g id="k44-9"><use href="#wL" x="500"/></g><g id="k44-10"><use href="#tL" x="552"/></g><g id="k44-11"><use href="#tL" x="604"/></g><g id="k44-12"><use href="#tL" x="656"/></g></g>
<g id="r45" transform="translate(0 2350)"><g id="k45-1"><use href="#tR" x="84"/></g><g id="k45-2"><use href="#tR" x="136"/></g><g id="k45-3"><use href="#tR" x="188"/></g><g id="k45-4"><use href="#tR" x="240"/></g><g id="k45-5"><use href="#tR" x="292"/></g><g id="k45-6"><use href="#tR" x="344"/></g><g id="k45-7"><use href="#tR" x="396"/></g><g id="k45-8"><use href="#tR" x="448"/></g><g id="k45-9"><use href="#tR" x="500"/></g><g id="k45-10"><use href="#tR" x="552"/></g><g id="k45-11"><use href="#tR" x="604"/></g><g id="k45-12"><use href="#tR" x="656"/></g></g>
<g id="r46" transform="translate(0 2402)"><g id="k46-1"><use href="#tL" x="84"/></g><g id="k46-2"><use href="#tL" x="136"/></g><g id="k46-3"><use href="#tL" x="188"/></g><g id="k46-4"><use href="#tL" x="240"/></g><g id="k46-5"><use href="#tL" x="292"/></g><g id="k46-6"><use href="#tL" x="344"/></g><g id="k46-7"><use href="#tL" x="396"/></g><g id="k46-8"><use href="#tL" x="448"/></g><g id="k46-9"><use href="#tL" x="500"/></g><g id="k46-10"><use href="#tL" x="552"/></g><g id="k46-11"><use href="#tL" x="604"/></g><g id="k46-12"><use href="#tL" x="656"/></g></g>
<g id="r47" transform="translate(0 2454)"><g id="k47-1"><use href="#tR" x="84"/></g><g id="k47-2"><use href="#tR" x="136"/></g><g id="k47-3"><use href="#tR" x="188"/></g><g id="k47-4"><use href="#tR" x="240"/></g><g id="k47-5"><use href="#tR" x="292"/></g><g id="k47-6"><use href="#tR" x="344"/></g><g id="k47-7"><use href="#tR" x="396"/></g><g id="k47-8"><use href="#tR" x="448"/></g><g id="k47-9"><use href="#tR" x="500"/></g><g id="k47-10"><use href="#tR" x="552"/></g><g id="k47-11"><use href="#tR" x="604"/></g><g id="k47-12"><use href="#tR" x="656"/></g></g>
<g id="r48" transform="translate(0 2506)"><g id="k48-1"><use href="#tL" x="84"/></g><g id="k48-2"><use href="#tL" x="136"/></g><g id="k48-3"><use href="#tL" x="188"/></g><g id="k48-4"><use href="#tL" x="240"/></g><g id="k48-5"><use href="#tL" x="292"/></g><g id="k48-6"><use href="#tL" x="344"/></g><g id="k48-7"><use href="#tL" x="396"/></g><g id="k48-8"><use href="#tL" x="448"/></g><g id="k48-9"><use href="#tL" x="500"/></g><g id="k48-10"><use href="#tL" x="552"/></g><g id="k48-11"><use href="#tL" x="604"/></g><g id="k48-12"><use href="#tL" x="656"/></g></g>
<g id="r49" transform="translate(0 2558)"><g id="k49-1"><use href="#tR" x="84"/></g><g id="k49-2"><use href="#tR" x="136"/></g><g id="k49-3"><use href="#tR" x="188"/></g><g id="k49-4"><use href="#tR" x="240"/></g><g id="k49-5"><use href="#tR" x="292"/></g><g id="k49-6"><use href="#tR" x="344"/></g><g id="k49-7"><use href="#tR" x="396"/></g><g id="k49-8"><use href="#tR" x="448"/></g><g id="k49-9"><use href="#tR" x="500"/></g><g id="k49-10"><use href="#tR" x="552"/></g><g id="k49-11"><use href="#tR" x="604"/></g><g id="k49-12"><use href="#tR" x="656"/></g></g>
<g id="r50" transform="translate(0 2610)"><g id="k50-1"><use href="#tL" x="84"/></g><g id="k50-2"><use href="#tL" x="136"/></g><g id="k50-3"><use href="#tL" x="188"/></g><g id="k50-4"><use href="#tL" x="240"/></g><g id="k50-5"><use href="#tL" x="292"/></g><g id="k50-6"><use href="#tL" x="344"/></g><g id="k50-7"><use href="#tL" x="396"/></g><g id="k50-8"><use href="#tL" x="448"/></g><g id="k50-9"><use href="#tL" x="500"/></g><g id="k50-10"><use href="#tL" x="552"/></g><g id="k50-11"><use href="#tL" x="604"/></g><g id="k50-12"><use href="#tL" x="656"/></g></g>
<g id="r51" transform="translate(0 2662)"><g id="k51-1"><use href="#tR" x="84"/></g><g id="k51-2"><use href="#tR" x="136"/></g><g id="k51-3"><use href="#tR" x="188"/></g><g id="k51-4"><use href="#tR" x="240"/></g><g id="k51-5"><use href="#tR" x="292"/></g><g id="k51-6"><use href="#tR" x="344"/></g><g id="k51-7"><use href="#tR" x="396"/></g><g id="k51-8"><use href="#tR" x="448"/></g><g id="k51-9"><use href="#tR" x="500"/></g><g id="k51-10"><use href="#tR" x="552"/></g><g id="k51-11"><use href="#tR" x="604"/></g><g id="k51-12"><use href="#tR" x="656"/></g></g>
<g id="r52" transform="translate(0 2714)"><g id="k52-1"><use href="#tL" x="84"/></g><g id="k52-2"><use href="#tL" x="136"/></g><g id="k52-3"><use href="#tL" x="188"/></g><g id="k52-4"><use href="#tL" x="240"/></g><g id="k52-5"><use href="#tL" x="292"/></g><g id="k52-6"><use href="#tL" x="344"/></g><g id="k52-7"><use href="#tL" x="396"/></g><g id="k52-8"><use href="#tL" x="448"/></g><g id="k52-9"><use href="#tL" x="500"/></g><g id="k52-10"><use href="#tL" x="552"/></g><g id="k52-11"><use href="#tL" x="604"/></g><g id="k52-12"><use href="#tL" x="656"/></g></g>
<g id="r53" transform="translate(0 2766)"><g id="k53-1"><use href="#tR" x="84"/></g><g id="k53-2"><use href="#tR" x="136"/></g><g id="k53-3"><use href="#tR" x="188"/></g><g id="k53-4"><use href="#tR" x="240"/></g><g id="k53-5"><use href="#tR" x="292"/></g><g id="k53-6"><use href="#tR" x="344"/></g><g id="k53-7"><use href="#tR" x="396"/></g><g id="k53-8"><use href="#tR" x="448"/></g><g id="k53-9"><use href="#tR" x="500"/></g><g id="k53-10"><use href="#tR" x="552"/></g><g id="k53-11"><use href="#tR" x="604"/></g><g id="k53-12"><use href="#tR" x="656"/></g></g>
<g id="r54" transform="translate(0 2818)"><g id="k54-1"><use href="#tL" x="84"/></g><g id="k54-2"><use href="#tL" x="136"/></g><g id="k54-3"><use href="#tL" x="188"/></g><g id="k54-4"><use href="#tL" x="240"/></g><g id="k54-5"><use href="#tL" x="292"/></g><g id="k54-6"><use href="#tL" x="344"/></g><g id="k54-7"><use href="#tL" x="396"/></g><g id="k54-8"><use href="#tL" x="448"/></g><g id="k54-9"><use href="#tL" x="500"/></g><g id="k54-10"><use href="#tL" x="552"/></g><g id="k54-11"><use href="#tL" x="604"/></g><g id="k54-12"><use href="#tL" x="656"/></g></g>
<g id="r55" transform="translate(0 2870)"><g id="k55-1"><use href="#tR" x="84"/></g><g id="k55-2"><use href="#tR" x="136"/></g><g id="k55-3"><use href="#tR" x="188"/></g><g id="k55-4"><use href="#tR" x="240"/></g><g id="k55-5"><use href="#tR" x="292"/></g><g id="k55-6"><use href="#tR" x="344"/></g><g id="k55-7"><use href="#tR" x="396"/></g><g id="k55-8"><use href="#tR" x="448"/></g><g id="k55-9"><use href="#tR" x="500"/></g><g id="k55-10"><use href="#tR" x="552"/></g><g id="k55-11"><use href="#tR" x="604"/></g><g id="k55-12"><use href="#tR" x="656"/></g></g>
<g id="r56" transform="translate(0 2922)"><g id="k56-1"><use href="#tL" x="84"/></g><g id="k56-2"><use href="#tL" x="136"/></g><g id="k56-3"><use href="#tL" x="188"/></g><g id="k56-4"><use href="#tL" x="240"/></g><g id="k56-5"><use href="#tL" x="292"/></g><g id="k56-6"><use href="#tL" x="344"/></g><g id="k56-7"><use href="#tL" x="396"/></g><g id="k56-8"><use href="#tL" x="448"/></g><g id="k56-9"><use href="#tL" x="500"/></g><g id="k56-10"><use href="#tL" x="552"/></g><g id="k56-11"><use href="#tL" x="604"/></g><g id="k56-12"><use href="#tL" x="656"/></g></g>
<g id="r57" transform="translate(0 2974)"><g id="k57-1"><use href="#tR" x="84"/></g><g id="k57-2"><use href="#tR" x="136"/></g><g id="k57-3"><use href="#tR" x="188"/></g><g id="k57-4"><use href="#tR" x="240"/></g><g id="k57-5"><use href="#tR" x="292"/></g><g id="k57-6"><use href="#tR" x="344"/></g><g id="k57-7"><use href="#tR" x="396"/></g><g id="k57-8"><use href="#tR" x="448"/></g><g id="k57-9"><use href="#tR" x="500"/></g><g id="k57-10"><use href="#tR" x="552"/></g><g id="k57-11"><use href="#tR" x="604"/></g><g id="k57-12"><use href="#tR" x="656"/></g></g>
<g id="r58" transform="translate(0 3026)"><g id="k58-1"><use href="#tL" x="84"/></g><g id="k58-2"><use href="#tL" x="136"/></g><g id="k58-3"><use href="#tL" x="188"/></g><g id="k58-4"><use href="#tL" x="240"/></g><g id="k58-5"><use href="#tL" x="292"/></g><g id="k58-6"><use href="#tL" x="344"/></g><g id="k58-7"><use href="#tL" x="396"/></g><g id="k58-8"><use href="#tL" x="448"/></g><g id="k58-9"><use href="#tL" x="500"/></g><g id="k58-10"><use href="#tL" x="552"/></g><g id="k58-11"><use href="#tL" x="604"/></g><g id="k58-12"><use href="#tL" x="656"/></g></g>
</g>
<g id="labels">
<path class="ln" d="M27 114H67M27 166H67M27 218H67M27 270H67M27 322H67M27 374H67M27 426H67M27 478H67M27 530H67M27 582H67M27 634H67M27 686H67M27 738H67M27 842H67M27 946H67M27 998H67M27 1050H67M27 1102H67M27 1154H67M27 1206H67M27 1258H67M27 1310H67M27 1362H67M27 1414H67M27 1466H67M27 1518H67M27 1570H67M27 1622H67M27 1674H67M27 1726H67M27 1778H67M27 1830H67M27 1882H67M27 1934H67M27 1986H67M27 2038H67M27 2090H67M27 2142H67M27 2246H67M27 2350H67M27 2402H67M27 2454H67M27 2506H67M27 2558H67M27 2610H67M27 2662H67M27 2714H67M27 2766H67M27 2818H67M27 2870H67M27 2922H67M27 2974H67"/>
<path class="ln" d="M673 62H713M673 114H713M673 166H713M673 218H713M673 270H713M673 322H713M673 374H713M673 426H713M673 478H713M673 530H713M673 582H713M673 634H713M673 686H713M673 738H713M673 790H713M673 842H713M673 894H713M673 946H713M673 998H713M673 1050H713M673 1102H713M673 1154H713M673 1206H713M673 1258H713M673 1310H713M673 1362H713M673 1414H713M673 1466H713M673 1518H713M673 1570H713M673 1622H713M673 1674H713M673 1726H713M673 1778H713M673 1830H713M673 1882H713M673 1934H713M673 1986H713M673 2038H713M673 2090H713M673 2142H713M673 2194H713M673 2246H713M673 2298H713M673 2350H713M673 2402H713M673 2454H713M673 2506H713M673 2558H713M673 2610H713M673 2662H713M673 2714H713M673 2766H713M673 2818H713M673 2870H713M673 2922H713M673 2974H713M673 3026H713"/>
<g class="n nl">
<text x="22" y="66.5">1</text><text x="22" y="118.5">2</text><text x="22" y="170.5">3</text><text x="22" y="222.5">4</text><text x="22" y="274.5">5</text><text x="22" y="326.5">6</text><text x="22" y="378.5">7</text><text x="22" y="430.5">8</text><text x="22" y="482.5">9</text><text x="22" y="534.5">10</text><text x="22" y="586.5">11</text><text x="22" y="638.5">12</text><text x="22" y="690.5">13</text><text x="22" y="742.5">14</text><text x="22" y="794.5">15</text><text x="22" y="846.5">16</text><text x="22" y="898.5">17</text><text x="22" y="950.5">18</text><text x="22" y="1002.5">19</text><text x="22" y="1054.5">20</text><text x="22" y="1106.5">21</text><text x="22" y="1158.5">22</text><text x="22" y="1210.5">23</text><text x="22" y="1262.5">24</text><text x="22" y="1314.5">25</text><text x="22" y="1366.5">26</text><text x="22" y="1418.5">27</text><text x="22" y="1470.5">28</text><text x="22" y="1522.5">29</text><text x="22" y="1574.5">30</text><text x="22" y="1626.5">31</text><text x="22" y="1678.5">32</text><text x="22" y="1730.5">33</text><text x="22" y="1782.5">34</text><text x="22" y="1834.5">35</text><text x="22" y="1886.5">36</text><text x="22" y="1938.5">37</text><text x="22" y="1990.5">38</text><text x="22" y="2042.5">39</text><text x="22" y="2094.5">40</text><text x="22" y="2146.5">41</text><text x="22" y="2198.5">42</text><text x="22" y="2250.5">43</text><text x="22" y="2302.5">44</text><text x="22" y="2354.5">45</text><text x="22" y="2406.5">46</text><text x="22" y="2458.5">47</text><text x="22" y="2510.5">48</text><text x="22" y="2562.5">49</text><text x="22" y="2614.5">50</text><text x="22" y="2666.5">51</text><text x="22" y="2718.5">52</text><text x="22" y="2770.5">53</text><text x="22" y="2822.5">54</text><text x="22" y="2874.5">55</text><text x="22" y="2926.5">56</text><text x="22" y="2978.5">57</text><text x="22" y="3030.5">58</text>
</g>
<g class="n">
<text x="719" y="66.5">1</text><text x="719" y="118.5">2</text><text x="719" y="170.5">3</text><text x="719" y="222.5">4</text><text x="719" y="274.5">5</text><text x="719" y="326.5">6</text><text x="719" y="378.5">7</text><text x="719" y="430.5">8</text><text x="719" y="482.5">9</text><text x="719" y="534.5">10</text><text x="719" y="586.5">11</text><text x="719" y="638.5">12</text><text x="719" y="690.5">13</text><text x="719" y="742.5">14</text><text x="719" y="794.5">15</text><text x="719" y="846.5">16</text><text x="719" y="898.5">17</text><text x="719" y="950.5">18</text><text x="719" y="1002.5">19</text><text x="719" y="1054.5">20</text><text x="719" y="1106.5">21</text><text x="719" y="1158.5">22</text><text x="719" y="1210.5">23</text><text x="719" y="1262.5">24</text><text x="719" y="1314.5">25</text><text x="719" y="1366.5">26</text><text x="719" y="1418.5">27</text><text x="719" y="1470.5">28</text><text x="719" y="1522.5">29</text><text x="719" y="1574.5">30</text><text x="719" y="1626.5">31</text><text x="719" y="1678.5">32</text><text x="719" y="1730.5">33</text><text x="719" y="1782.5">34</text><text x="719" y="1834.5">35</text><text x="719" y="1886.5">36</text><text x="719" y="1938.5">37</text><text x="719" y="1990.5">38</text><text x="719" y="2042.5">39</text><text x="719" y="2094.5">40</text><text x="719" y="2146.5">41</text><text x="719" y="2198.5">42</text><text x="719" y="2250.5">43</text><text x="719" y="2302.5">44</text><text x="719" y="2354.5">45</text><text x="719" y="2406.5">46</text><text x="719" y="2458.5">47</text><text x="719" y="2510.5">48</text><text x="719" y="2562.5">49</text><text x="719" y="2614.5">50</text><text x="719" y="2666.5">51</text><text x="719" y="2718.5">52</text><text x="719" y="2770.5">53</text><text x="719" y="2822.5">54</text><text x="719" y="2874.5">55</text><text x="719" y="2926.5">56</text><text x="719" y="2978.5">57</text><text x="719" y="3030.5">58</text>
</g>
<g class="tb">
<text x="31" y="65.5" fill="#fff">A</text>
<text x="31" y="793.5" fill="#000">B</text>
<text x="31" y="897.5" fill="#fff">C</text>
<text x="31" y="2197.5" fill="#fff">C</text>
<text x="31" y="2301.5" fill="#000">B</text>
<text x="31" y="3029.5" fill="#fff">A</text>
</g>
</g>
<g id="watermark">
<rect x="287" y="1537" width="166" height="14" fill="#fff" fill-opacity="0.55"/>
<text class="wm" x="370" y="1549">BRACELETBOOK.COM</text>
</g>
</svg>
